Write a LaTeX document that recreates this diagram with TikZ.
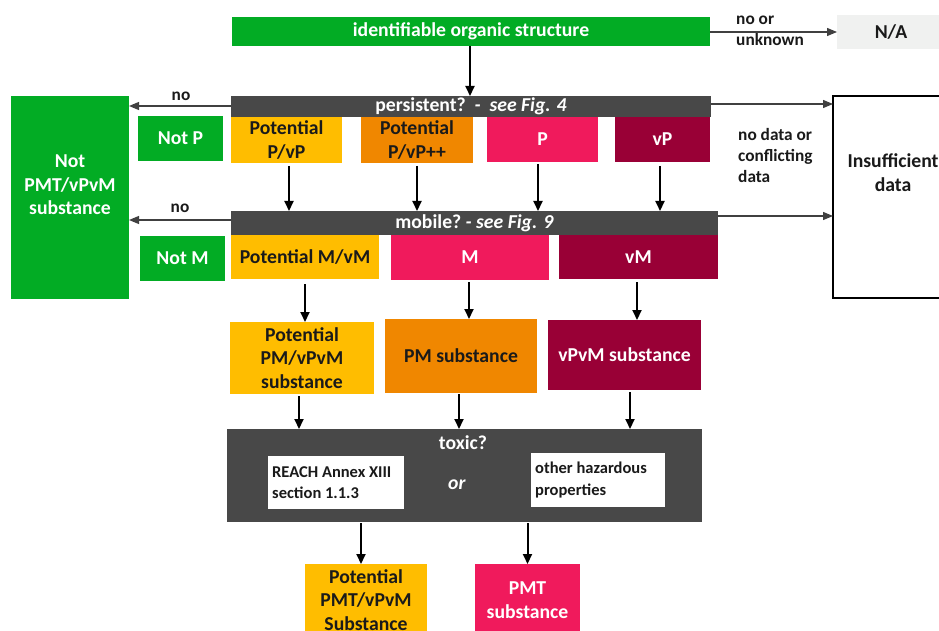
\documentclass[tikz,border=0pt]{standalone}
\usepackage{fontspec}
\setmainfont{Carlito}
\usetikzlibrary{arrows.meta}
\definecolor{cgreen}{HTML}{02AC24}
\definecolor{camber}{HTML}{FFBD00}
\definecolor{corange}{HTML}{F08700}
\definecolor{cpink}{HTML}{F01A5C}
\definecolor{ccrimson}{HTML}{990036}
\definecolor{cdark}{HTML}{484848}
\definecolor{clight}{HTML}{F0F1F0}
\definecolor{ctext}{HTML}{1A1A1A}
\begin{document}
\begin{tikzpicture}[x=1pt,y=-1pt,
  box/.style={draw=none,rectangle,inner sep=0pt,outer sep=0pt,align=center,
    font=\fontsize{19.7}{23.5}\selectfont\bfseries},
  wbox/.style={box,text=white},
  kbox/.style={box,text=ctext},
  lbl/.style={inner sep=0pt,align=left,text=ctext,font=\fontsize{17.3}{21}\selectfont\bfseries},
  small/.style={inner sep=0pt,align=left,text=ctext,font=\fontsize{16.5}{21.5}\selectfont\bfseries},
  varr/.style={line width=2pt,-{Triangle[length=10pt,width=9pt]},black},
  harr/.style={line width=1.2pt,draw=black!75,-{Triangle[length=10pt,width=8pt]}},
]
\clip (0,0) rectangle (939,631);
\fill[white] (0,0) rectangle (939,631);

% top row
\node[wbox,fill=cgreen,minimum width=478pt,minimum height=29pt] (top) at (471,31.5) {identifiable organic structure};
\node[box,fill=clight,text=ctext,minimum width=108pt,minimum height=34pt] (na) at (891,32) {N/A};

% persistent
\node[wbox,fill=cdark,minimum width=480pt,minimum height=21pt] (pers) at (471,106.5) {persistent?\ \ \textit{-\ \ see Fig. 4}};
\node[kbox,fill=camber,minimum width=111pt,minimum height=46pt] (ppv) at (286.5,140) {Potential\\P/vP};
\node[kbox,fill=corange,minimum width=112pt,minimum height=46pt] (ppvpp) at (417,140) {Potential\\P/vP++};
\node[wbox,fill=cpink,minimum width=111pt,minimum height=45pt] (p) at (542.5,139.5) {P};
\node[wbox,fill=ccrimson,minimum width=95pt,minimum height=45pt] (vp) at (662.5,139.5) {vP};
\node[wbox,fill=cgreen,minimum width=85pt,minimum height=45pt] (notp) at (180.5,138.5) {Not P};

% left big box
\node[wbox,fill=cgreen,minimum width=118pt,minimum height=203pt] (notpmt) at (70,197.5) {};
\node[wbox] (notpmtt) at (70,185) {Not\\PMT/vPvM\\substance};

% right big box
\node[box,draw=black,line width=1.2pt,fill=white,minimum width=120pt,minimum height=202pt] (insuff) at (893,197) {};
\node[kbox] (insufft) at (893,172.5) {Insufficient\\data};

% mobile
\node[wbox,fill=cdark,minimum width=487pt,minimum height=24pt] (mob) at (474.5,223) {mobile?\ \textit{-\ see Fig. 9}};
\node[wbox,fill=cgreen,minimum width=85pt,minimum height=45pt] (notm) at (182.5,258.5) {Not M};
\node[kbox,fill=camber,minimum width=148pt,minimum height=44pt] (pmvm) at (305,257) {Potential M/vM};
\node[wbox,fill=cpink,minimum width=158pt,minimum height=45pt] (m) at (470,257.5) {M};
\node[wbox,fill=ccrimson,minimum width=159pt,minimum height=44pt] (vm) at (638.5,257) {vM};

% substances
\node[kbox,fill=camber,minimum width=144pt,minimum height=72pt] (ppm) at (302,358) {Potential\\PM/vPvM\\substance};
\node[kbox,fill=corange,minimum width=152pt,minimum height=74pt] (pm) at (461,356) {PM substance};
\node[wbox,fill=ccrimson,minimum width=153pt,minimum height=70pt] (vpvm) at (624.5,355) {vPvM substance};

% toxic
\node[wbox,fill=cdark,minimum width=475pt,minimum height=93pt] (tox) at (464.5,475.5) {};
\node[wbox] (toxt) at (463,443) {toxic?};
\node[wbox] (ort) at (457,485) {\textit{or}};
\node[box,fill=white,minimum width=136pt,minimum height=53pt] (reach) at (336,482.5) {};
\node[small,anchor=west] (reacht) at ([xshift=4pt]reach.west) {REACH Annex XIII\\section 1.1.3};
\node[box,fill=white,minimum width=134pt,minimum height=54pt] (other) at (598,480) {};
\node[small,anchor=west] (othert) at ([xshift=4pt]other.west) {other hazardous\\properties};

% final
\node[kbox,fill=camber,minimum width=122pt,minimum height=72pt] (ppmt) at (366,600) {Potential\\PMT/vPvM\\Substance};
\node[wbox,fill=cpink,minimum width=105pt,minimum height=72pt] (pmt) at (527.5,600) {PMT\\substance};

% labels
\node[lbl,anchor=west] (l1) at (736,30.5) {no or\\unknown};
\node[lbl,anchor=west] (l2) at (738,155.5) {no data or\\conflicting\\data};
\node[lbl] (l3) at (181,96) {no};
\node[lbl] (l4) at (180,208) {no};

% horizontal arrows
\draw[harr] (top.east |- na.west) -- (na.west);
\draw[harr] ([yshift=0.5pt]pers.west) -- ([yshift=0.5pt]pers.west -| notpmt.east);
\draw[harr] ([yshift=3pt]mob.west) -- ([yshift=3pt]mob.west -| notpmt.east);
\draw[harr] ([yshift=2.5pt]pers.east) -- ([yshift=2.5pt]pers.east -| insuff.west);
\draw[harr] ([yshift=7pt]mob.east) -- ([yshift=7pt]mob.east -| insuff.west);

% vertical arrows
\draw[varr] ([xshift=-1pt]top.south) -- ([xshift=-1pt]top.south |- pers.north);
\draw[varr] ([xshift=2.5pt,yshift=-3pt]ppv.south) -- ([xshift=2.5pt]ppv.south |- mob.north);
\draw[varr] ([yshift=-3pt]ppvpp.south) -- (ppvpp.south |- mob.north);
\draw[varr] ([xshift=-4.5pt,yshift=-2pt]p.south) -- ([xshift=-4.5pt]p.south |- mob.north);
\draw[varr] ([xshift=-2.5pt,yshift=-4pt]vp.south) -- ([xshift=-2.5pt]vp.south |- mob.north);
\draw[varr] ([yshift=-5pt]pmvm.south) -- (pmvm.south |- ppm.north);
\draw[varr] ([xshift=-1pt,yshift=-2pt]m.south) -- ([xshift=-1pt]m.south |- pm.north);
\draw[varr] ([xshift=-1.5pt,yshift=-3pt]vm.south) -- ([xshift=-1.5pt]vm.south |- vpvm.north);
\draw[varr] ([xshift=-3pt,yshift=-2pt]ppm.south) -- ([xshift=-3pt]ppm.south |- tox.north);
\draw[varr] ([xshift=-2pt,yshift=-1pt]pm.south) -- ([xshift=-2pt]pm.south |- tox.north);
\draw[varr] ([xshift=5.5pt,yshift=-2pt]vpvm.south) -- ([xshift=5.5pt]vpvm.south |- tox.north);
\draw[varr] ([yshift=-1pt]tox.south -| ppmt.south) ++(-5pt,0) -- ([xshift=-5pt]ppmt.north);
\draw[varr] ([yshift=-1pt]tox.south -| pmt.south) -- (pmt.north);
\end{tikzpicture}
\end{document}
